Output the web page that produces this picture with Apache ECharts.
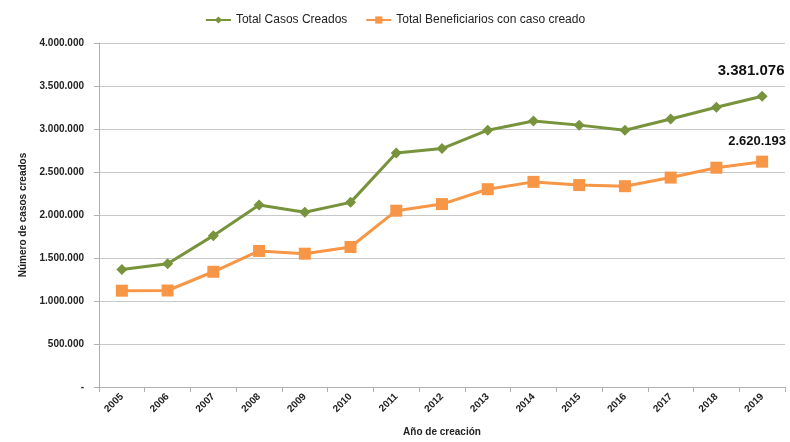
<!DOCTYPE html>
<html>
<head>
    <meta charset="utf-8">
    <title>Casos creados</title>
    <script src="https://cdn.jsdelivr.net/npm/echarts@6/dist/echarts.min.js"></script>
    <style>
        html, body { margin: 0; padding: 0; background: #fff; }
        #chart { width: 790px; height: 442px; }
    </style>
</head>
<body>
    <div id="chart"></div>

    <script>
        var years = ['2005', '2006', '2007', '2008', '2009', '2010', '2011', '2012',
            '2013', '2014', '2015', '2016', '2017', '2018', '2019'];
        var casos = [1366000, 1434000, 1760000, 2116000, 2032000, 2147000, 2722000, 2772000,
            2986000, 3093000, 3045000, 2985000, 3117000, 3252000, 3381076];
        var beneficiarios = [1120000, 1122000, 1340000, 1582000, 1550000, 1628000, 2050000, 2127000,
            2300000, 2385000, 2348000, 2335000, 2435000, 2550000, 2620193];

        function miles(v) {
            if (v === 0) return '-';
            return String(v).replace(/\B(?=(\d{3})+(?!\d))/g, '.');
        }

        // only the last point gets a label
        function lastLabel(p) {
            return p.dataIndex === years.length - 1 ? miles(p.value) : '';
        }

        var chart = echarts.init(document.getElementById('chart'));
        chart.setOption({
            animation: false,
            textStyle: { fontFamily: 'Liberation Sans' },
            legend: {
                top: 9,
                left: 'center',
                itemGap: 18,
                itemWidth: 25,
                itemHeight: 9,
                textStyle: { fontSize: 12, color: '#222' },
                data: ['Total Casos Creados', 'Total Beneficiarios con caso creado']
            },
            grid: { left: 99, right: 5, top: 43, bottom: 53 },
            xAxis: {
                type: 'category',
                data: years,
                boundaryGap: true,
                name: 'Año de creación',
                nameLocation: 'middle',
                nameGap: 40,
                nameTextStyle: { fontSize: 10, fontWeight: 'bold', color: '#222' },
                axisLine: { lineStyle: { color: '#b0b0b0' } },
                axisTick: { show: true, lineStyle: { color: '#b0b0b0' } },
                axisLabel: { rotate: 45, fontSize: 10, fontWeight: 'bold', color: '#222', margin: 8 }
            },
            yAxis: {
                type: 'value',
                min: 0,
                max: 4000000,
                interval: 500000,
                name: 'Número de casos creados',
                nameLocation: 'middle',
                nameGap: 71,
                nameRotate: 90,
                nameTextStyle: { fontSize: 10, fontWeight: 'bold', color: '#222' },
                axisLine: { show: true, lineStyle: { color: '#b0b0b0' } },
                axisTick: { show: true, length: 5, lineStyle: { color: '#b0b0b0' } },
                splitLine: { lineStyle: { color: '#c8c8c8' } },
                axisLabel: {
                    fontSize: 10, fontWeight: 'bold', color: '#222', margin: 15,
                    formatter: miles
                }
            },
            series: [{
                name: 'Total Casos Creados',
                type: 'line',
                data: casos,
                symbol: 'diamond',
                symbolSize: 11,
                color: '#77933C',
                lineStyle: { width: 3 },
                label: {
                    show: true,
                    position: 'top',
                    distance: 12,
                    offset: [-11, 0],
                    fontSize: 15,
                    fontWeight: 'bold',
                    color: '#111',
                    formatter: lastLabel
                }
            }, {
                name: 'Total Beneficiarios con caso creado',
                type: 'line',
                data: beneficiarios,
                symbol: 'rect',
                symbolSize: 12,
                color: '#F79646',
                lineStyle: { width: 3 },
                label: {
                    show: true,
                    position: 'top',
                    distance: 8,
                    offset: [-5, 0],
                    fontSize: 13,
                    fontWeight: 'bold',
                    color: '#111',
                    formatter: lastLabel
                }
            }]
        });
    </script>
</body>
</html>
